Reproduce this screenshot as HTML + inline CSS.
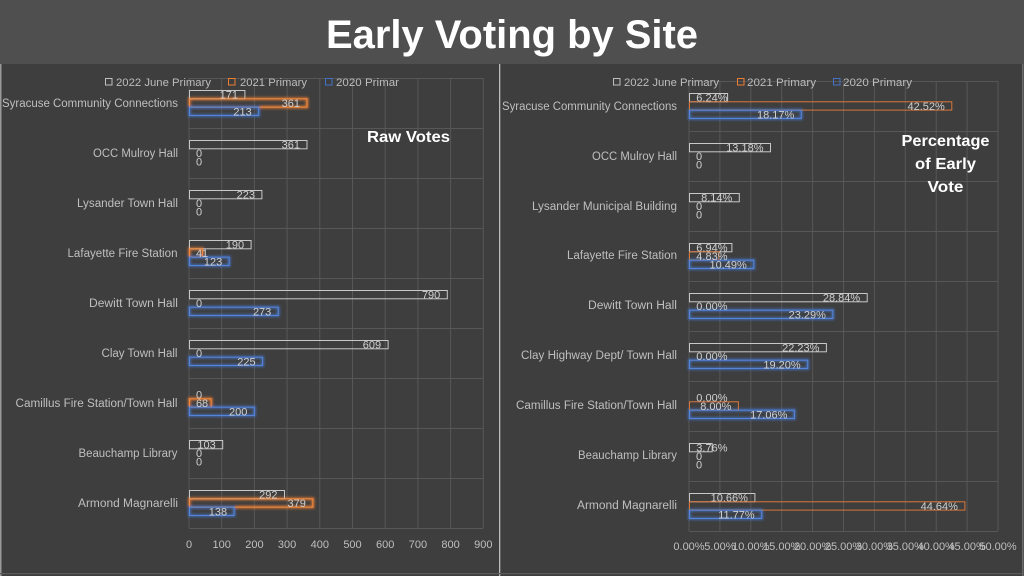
<!DOCTYPE html>
<html><head><meta charset="utf-8"><style>
html,body{margin:0;padding:0;background:#3e3e3e;}
svg{display:block;font-family:"Liberation Sans",sans-serif;}
</style></head><body>
<svg width="1024" height="576" viewBox="0 0 1024 576" xmlns="http://www.w3.org/2000/svg">
<defs>
<filter id="glowO" x="-20%" y="-100%" width="140%" height="300%"><feGaussianBlur stdDeviation="1.4"/></filter>
</defs>
<rect x="0" y="0" width="1024" height="576" fill="#3e3e3e"/>
<rect x="0" y="0" width="1024" height="64" fill="#4f4f4f"/>
<text x="512" y="48" text-anchor="middle" font-size="40" font-weight="bold" fill="#ffffff" textLength="372" lengthAdjust="spacingAndGlyphs">Early Voting by Site</text>
<!-- panel borders -->
<rect x="0" y="64" width="1.5" height="512" fill="#9a9a9a"/>
<rect x="499" y="64" width="1.3" height="512" fill="#bcbcbc"/>
<rect x="1022" y="64" width="1.5" height="512" fill="#6a6a6a"/>
<rect x="0" y="573" width="1024" height="1.2" fill="#5a5a5a"/>

<!-- LEFT CHART gridlines -->
<g stroke="#575757" stroke-width="1" fill="none">
<line x1="189" y1="78" x2="189" y2="528"/><line x1="221.7" y1="78" x2="221.7" y2="528"/><line x1="254.4" y1="78" x2="254.4" y2="528"/><line x1="287.1" y1="78" x2="287.1" y2="528"/><line x1="319.8" y1="78" x2="319.8" y2="528"/><line x1="352.5" y1="78" x2="352.5" y2="528"/><line x1="385.2" y1="78" x2="385.2" y2="528"/><line x1="417.9" y1="78" x2="417.9" y2="528"/><line x1="450.6" y1="78" x2="450.6" y2="528"/><line x1="483.3" y1="78" x2="483.3" y2="528"/>
<line x1="189" y1="78.5" x2="483.3" y2="78.5"/><line x1="189" y1="128.5" x2="483.3" y2="128.5"/><line x1="189" y1="178.5" x2="483.3" y2="178.5"/><line x1="189" y1="228.5" x2="483.3" y2="228.5"/><line x1="189" y1="278.5" x2="483.3" y2="278.5"/><line x1="189" y1="328.5" x2="483.3" y2="328.5"/><line x1="189" y1="378.5" x2="483.3" y2="378.5"/><line x1="189" y1="428.5" x2="483.3" y2="428.5"/><line x1="189" y1="478.5" x2="483.3" y2="478.5"/><line x1="189" y1="528.5" x2="483.3" y2="528.5"/>
</g>
<!-- left legend -->
<g font-size="11" fill="#bdbdbd">
<rect x="105.5" y="78.5" width="6.5" height="6.5" fill="none" stroke="#bfbfbf"/>
<text x="116" y="86" textLength="95" lengthAdjust="spacingAndGlyphs">2022 June Primary</text>
<rect x="228.5" y="78.5" width="6.5" height="6.5" fill="none" stroke="#ed7d31"/>
<text x="240" y="86" textLength="67" lengthAdjust="spacingAndGlyphs">2021 Primary</text>
<rect x="325.5" y="78.5" width="6.5" height="6.5" fill="none" stroke="#4472c4"/>
<text x="336" y="86" textLength="63" lengthAdjust="spacingAndGlyphs">2020 Primar</text>
</g>
<!-- left glow bars -->
<g fill="none" stroke-width="3" filter="url(#glowO)" opacity="0.8">
<rect x="189.5" y="98.8" width="117.5" height="8.3" stroke="#ed7d31"/>
<rect x="189.5" y="107.2" width="69.2" height="8.3" stroke="#4472c4"/>
<rect x="189.5" y="248.8" width="12.9" height="8.3" stroke="#ed7d31"/>
<rect x="189.5" y="257.2" width="39.7" height="8.3" stroke="#4472c4"/>
<rect x="189.5" y="307.2" width="88.8" height="8.3" stroke="#4472c4"/>
<rect x="189.5" y="357.2" width="73.1" height="8.3" stroke="#4472c4"/>
<rect x="189.5" y="398.8" width="21.7" height="8.3" stroke="#ed7d31"/>
<rect x="189.5" y="407.2" width="64.9" height="8.3" stroke="#4472c4"/>
<rect x="189.5" y="498.8" width="123.4" height="8.3" stroke="#ed7d31"/>
<rect x="189.5" y="507.2" width="44.6" height="8.3" stroke="#4472c4"/>
</g>
<!-- left bars -->
<g fill="none" stroke-width="1">
<rect x="189.5" y="90.5" width="55.4" height="8.3" stroke="#c8c8c8"/>
<rect x="189.5" y="98.8" width="117.5" height="8.3" stroke="#f08a40"/>
<rect x="189.5" y="107.2" width="69.2" height="8.3" stroke="#5585d8"/>
<rect x="189.5" y="140.5" width="117.5" height="8.3" stroke="#c8c8c8"/>
<rect x="189.5" y="190.5" width="72.4" height="8.3" stroke="#c8c8c8"/>
<rect x="189.5" y="240.5" width="61.6" height="8.3" stroke="#c8c8c8"/>
<rect x="189.5" y="248.8" width="12.9" height="8.3" stroke="#f08a40"/>
<rect x="189.5" y="257.2" width="39.7" height="8.3" stroke="#5585d8"/>
<rect x="189.5" y="290.5" width="257.8" height="8.3" stroke="#c8c8c8"/>
<rect x="189.5" y="307.2" width="88.8" height="8.3" stroke="#5585d8"/>
<rect x="189.5" y="340.5" width="198.6" height="8.3" stroke="#c8c8c8"/>
<rect x="189.5" y="357.2" width="73.1" height="8.3" stroke="#5585d8"/>
<rect x="189.5" y="398.8" width="21.7" height="8.3" stroke="#f08a40"/>
<rect x="189.5" y="407.2" width="64.9" height="8.3" stroke="#5585d8"/>
<rect x="189.5" y="440.5" width="33.2" height="8.3" stroke="#c8c8c8"/>
<rect x="189.5" y="490.5" width="95" height="8.3" stroke="#c8c8c8"/>
<rect x="189.5" y="498.8" width="123.4" height="8.3" stroke="#f08a40"/>
<rect x="189.5" y="507.2" width="44.6" height="8.3" stroke="#5585d8"/>
</g>
<!-- left data labels -->
<g font-size="11" fill="#d0d0d0" text-anchor="end">
<text x="238" y="98.7">171</text><text x="300" y="107">361</text><text x="251.7" y="115.4">213</text>
<text x="300" y="148.7">361</text><text x="202.1" y="157">0</text><text x="202.1" y="165.4">0</text>
<text x="255" y="198.7">223</text><text x="202.1" y="207">0</text><text x="202.1" y="215.4">0</text>
<text x="244.1" y="248.7">190</text><text x="208.2" y="257">41</text><text x="222.2" y="265.4">123</text>
<text x="440.3" y="298.7">790</text><text x="202.1" y="307">0</text><text x="271.3" y="315.4">273</text>
<text x="381.1" y="348.7">609</text><text x="202.1" y="357">0</text><text x="255.6" y="365.4">225</text>
<text x="202.1" y="398.7">0</text><text x="208.2" y="407">68</text><text x="247.4" y="415.4">200</text>
<text x="215.7" y="448.7">103</text><text x="202.1" y="457">0</text><text x="202.1" y="465.4">0</text>
<text x="277.5" y="498.7">292</text><text x="305.9" y="507">379</text><text x="227.1" y="515.4">138</text>
</g>
<!-- left category labels -->
<g font-size="11.5" fill="#bfbfbf" text-anchor="end">
<text x="178" y="107" textLength="176" lengthAdjust="spacingAndGlyphs">Syracuse Community Connections</text>
<text x="178" y="157" textLength="85" lengthAdjust="spacingAndGlyphs">OCC Mulroy Hall</text>
<text x="178" y="207" textLength="101" lengthAdjust="spacingAndGlyphs">Lysander Town Hall</text>
<text x="177.5" y="257" textLength="110" lengthAdjust="spacingAndGlyphs">Lafayette Fire Station</text>
<text x="178" y="307" textLength="89" lengthAdjust="spacingAndGlyphs">Dewitt Town Hall</text>
<text x="177.5" y="357" textLength="76" lengthAdjust="spacingAndGlyphs">Clay Town Hall</text>
<text x="177.5" y="407" textLength="162" lengthAdjust="spacingAndGlyphs">Camillus Fire Station/Town Hall</text>
<text x="177.5" y="457" textLength="99" lengthAdjust="spacingAndGlyphs">Beauchamp Library</text>
<text x="178" y="507" textLength="100" lengthAdjust="spacingAndGlyphs">Armond Magnarelli</text>
</g>
<!-- left axis -->
<g font-size="11" fill="#bfbfbf" text-anchor="middle">
<text x="189" y="548">0</text><text x="221.7" y="548">100</text><text x="254.4" y="548">200</text><text x="287.1" y="548">300</text><text x="319.8" y="548">400</text><text x="352.5" y="548">500</text><text x="385.2" y="548">600</text><text x="417.9" y="548">700</text><text x="450.6" y="548">800</text><text x="483.3" y="548">900</text>
</g>
<text x="408.5" y="142" text-anchor="middle" font-size="16" font-weight="bold" fill="#ffffff" textLength="83" lengthAdjust="spacingAndGlyphs">Raw Votes</text>

<!-- RIGHT CHART gridlines -->
<g stroke="#575757" stroke-width="1" fill="none">
<line x1="689" y1="81" x2="689" y2="531"/><line x1="719.9" y1="81" x2="719.9" y2="531"/><line x1="750.8" y1="81" x2="750.8" y2="531"/><line x1="781.7" y1="81" x2="781.7" y2="531"/><line x1="812.6" y1="81" x2="812.6" y2="531"/><line x1="843.5" y1="81" x2="843.5" y2="531"/><line x1="874.4" y1="81" x2="874.4" y2="531"/><line x1="905.3" y1="81" x2="905.3" y2="531"/><line x1="936.2" y1="81" x2="936.2" y2="531"/><line x1="967.1" y1="81" x2="967.1" y2="531"/><line x1="998" y1="81" x2="998" y2="531"/>
<line x1="689" y1="81.5" x2="998" y2="81.5"/><line x1="689" y1="131.5" x2="998" y2="131.5"/><line x1="689" y1="181.5" x2="998" y2="181.5"/><line x1="689" y1="231.5" x2="998" y2="231.5"/><line x1="689" y1="281.5" x2="998" y2="281.5"/><line x1="689" y1="331.5" x2="998" y2="331.5"/><line x1="689" y1="381.5" x2="998" y2="381.5"/><line x1="689" y1="431.5" x2="998" y2="431.5"/><line x1="689" y1="481.5" x2="998" y2="481.5"/><line x1="689" y1="531.5" x2="998" y2="531.5"/>
</g>
<!-- right legend -->
<g font-size="11" fill="#bdbdbd">
<rect x="613.5" y="78.5" width="6.5" height="6.5" fill="none" stroke="#bfbfbf"/>
<text x="624" y="86" textLength="95" lengthAdjust="spacingAndGlyphs">2022 June Primary</text>
<rect x="737.5" y="78.5" width="6.5" height="6.5" fill="none" stroke="#ed7d31"/>
<text x="747" y="86" textLength="69" lengthAdjust="spacingAndGlyphs">2021 Primary</text>
<rect x="833.5" y="78.5" width="6.5" height="6.5" fill="none" stroke="#4472c4"/>
<text x="843" y="86" textLength="69" lengthAdjust="spacingAndGlyphs">2020 Primary</text>
</g>
<!-- right glow (blue only mostly) -->
<g fill="none" stroke-width="3" filter="url(#glowO)" opacity="0.8">
<rect x="689.5" y="110.2" width="111.8" height="8.3" stroke="#4472c4"/>
<rect x="689.5" y="260.2" width="64.3" height="8.3" stroke="#4472c4"/>
<rect x="689.5" y="310.2" width="143.4" height="8.3" stroke="#4472c4"/>
<rect x="689.5" y="360.2" width="118.2" height="8.3" stroke="#4472c4"/>
<rect x="689.5" y="410.2" width="104.9" height="8.3" stroke="#4472c4"/>
<rect x="689.5" y="510.2" width="72.2" height="8.3" stroke="#4472c4"/>
</g>
<!-- right bars -->
<g fill="none" stroke-width="1">
<rect x="689.5" y="93.5" width="38.1" height="8.3" stroke="#c8c8c8"/>
<rect x="689.5" y="101.8" width="262.3" height="8.3" stroke="#d9773a"/>
<rect x="689.5" y="110.2" width="111.8" height="8.3" stroke="#5585d8"/>
<rect x="689.5" y="143.5" width="81" height="8.3" stroke="#c8c8c8"/>
<rect x="689.5" y="193.5" width="49.8" height="8.3" stroke="#c8c8c8"/>
<rect x="689.5" y="243.5" width="42.4" height="8.3" stroke="#c8c8c8"/>
<rect x="689.5" y="251.8" width="29.3" height="8.3" stroke="#d9773a"/>
<rect x="689.5" y="260.2" width="64.3" height="8.3" stroke="#5585d8"/>
<rect x="689.5" y="293.5" width="177.7" height="8.3" stroke="#c8c8c8"/>
<rect x="689.5" y="310.2" width="143.4" height="8.3" stroke="#5585d8"/>
<rect x="689.5" y="343.5" width="136.9" height="8.3" stroke="#c8c8c8"/>
<rect x="689.5" y="360.2" width="118.2" height="8.3" stroke="#5585d8"/>
<rect x="689.5" y="401.8" width="48.9" height="8.3" stroke="#d9773a"/>
<rect x="689.5" y="410.2" width="104.9" height="8.3" stroke="#5585d8"/>
<rect x="689.5" y="443.5" width="22.7" height="8.3" stroke="#c8c8c8"/>
<rect x="689.5" y="493.5" width="65.4" height="8.3" stroke="#c8c8c8"/>
<rect x="689.5" y="501.8" width="275.4" height="8.3" stroke="#d9773a"/>
<rect x="689.5" y="510.2" width="72.2" height="8.3" stroke="#5585d8"/>
</g>
<!-- right data labels -->
<g font-size="11" fill="#d0d0d0" text-anchor="end">
<text x="727.5" y="101.7">6.24%</text><text x="944.8" y="110">42.52%</text><text x="794.3" y="118.4">18.17%</text>
<text x="763.5" y="151.7">13.18%</text><text x="702.1" y="160">0</text><text x="702.1" y="168.4">0</text>
<text x="732.3" y="201.7">8.14%</text><text x="702.1" y="210">0</text><text x="702.1" y="218.4">0</text>
<text x="727.5" y="251.7">6.94%</text><text x="727.5" y="260">4.83%</text><text x="746.8" y="268.4">10.49%</text>
<text x="860.2" y="301.7">28.84%</text><text x="727.5" y="310">0.00%</text><text x="825.9" y="318.4">23.29%</text>
<text x="819.4" y="351.7">22.23%</text><text x="727.5" y="360">0.00%</text><text x="800.7" y="368.4">19.20%</text>
<text x="727.5" y="401.7">0.00%</text><text x="731.4" y="410">8.00%</text><text x="787.4" y="418.4">17.06%</text>
<text x="727.5" y="451.7">3.76%</text><text x="702.1" y="460">0</text><text x="702.1" y="468.4">0</text>
<text x="747.9" y="501.7">10.66%</text><text x="957.9" y="510">44.64%</text><text x="754.7" y="518.4">11.77%</text>
</g>
<!-- right category labels -->
<g font-size="11.5" fill="#bfbfbf" text-anchor="end">
<text x="677" y="110" textLength="175" lengthAdjust="spacingAndGlyphs">Syracuse Community Connections</text>
<text x="677" y="160" textLength="85" lengthAdjust="spacingAndGlyphs">OCC Mulroy Hall</text>
<text x="677" y="210" textLength="145" lengthAdjust="spacingAndGlyphs">Lysander Municipal Building</text>
<text x="677" y="259" textLength="110" lengthAdjust="spacingAndGlyphs">Lafayette Fire Station</text>
<text x="677" y="309" textLength="89" lengthAdjust="spacingAndGlyphs">Dewitt Town Hall</text>
<text x="677" y="359" textLength="156" lengthAdjust="spacingAndGlyphs">Clay Highway Dept/ Town Hall</text>
<text x="677" y="409" textLength="161" lengthAdjust="spacingAndGlyphs">Camillus Fire Station/Town Hall</text>
<text x="677" y="459" textLength="99" lengthAdjust="spacingAndGlyphs">Beauchamp Library</text>
<text x="677" y="509" textLength="100" lengthAdjust="spacingAndGlyphs">Armond Magnarelli</text>
</g>
<!-- right axis -->
<g font-size="11" fill="#bfbfbf" text-anchor="middle">
<text x="689" y="550">0.00%</text><text x="719.9" y="550">5.00%</text><text x="750.8" y="550">10.00%</text><text x="781.7" y="550">15.00%</text><text x="812.6" y="550">20.00%</text><text x="843.5" y="550">25.00%</text><text x="874.4" y="550">30.00%</text><text x="905.3" y="550">35.00%</text><text x="936.2" y="550">40.00%</text><text x="967.1" y="550">45.00%</text><text x="998" y="550">50.00%</text>
</g>
<g font-size="16" font-weight="bold" fill="#ffffff" text-anchor="middle">
<text x="945.5" y="146" textLength="88" lengthAdjust="spacingAndGlyphs">Percentage</text>
<text x="945.5" y="169" textLength="61" lengthAdjust="spacingAndGlyphs">of Early</text>
<text x="945.5" y="192" textLength="36" lengthAdjust="spacingAndGlyphs">Vote</text>
</g>
</svg>
</body></html>
